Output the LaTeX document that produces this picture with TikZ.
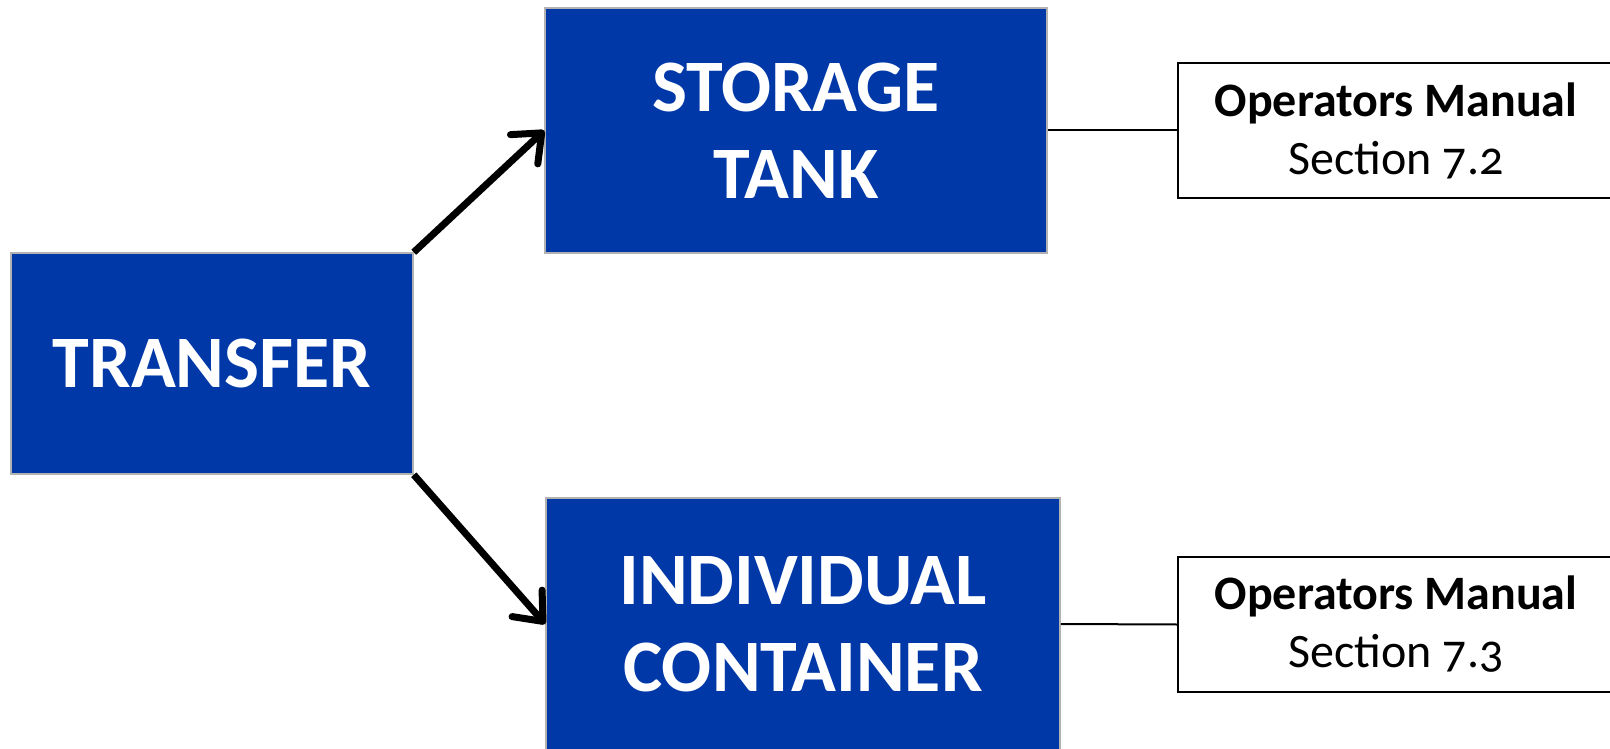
\documentclass[tikz,border=0pt]{standalone}
\usepackage{fontspec}
\setmainfont{Carlito}[Numbers=OldStyle]
\usetikzlibrary{arrows.meta}
\definecolor{tankblue}{RGB}{0,56,168}

\tikzset{
	block/.style={draw=gray!60, line width=1.5pt, fill=tankblue, text=white, align=center, inner sep=0pt,
		font=\fontsize{74}{87}\bfseries\selectfont},
	manual/.style={draw=black, line width=2pt, fill=white, align=center, inner sep=0pt,
		minimum width=436pt, minimum height=135pt, font=\fontsize{48}{58}\selectfont},
	flow/.style={line width=7pt, -{Straight Barb[length=24pt,width=40pt,line cap=round,line join=round]}},
	link/.style={line width=2pt},
}

\begin{document}
\begin{tikzpicture}[x=1pt,y=-1pt]
	\useasboundingbox (0,0) rectangle (1610,749);
	\clip (0,0) rectangle (1610,749);
	% process blocks
	\node[block, minimum width=402pt, minimum height=221pt] (transfer) at (212,363.5) {TRANSFER};
	\node[block, minimum width=502pt, minimum height=245pt] (tank) at (796,130.5) {STORAGE\\TANK};
	\node[block, minimum width=514pt, minimum height=252pt] (container) at (803,624) {INDIVIDUAL\\CONTAINER};
	% references
	\node[manual] (man72) at (1396,130.5) {\textbf{Operators Manual}\\Section 7.2};
	\node[manual] (man73) at (1396,624.5) {\textbf{Operators Manual}\\Section 7.3};
	\draw[flow] (transfer.north east) -- (tank.west);
	\draw[flow] (transfer.south east) -- (container.west);
	\draw[link] (tank.east) -- (man72.west);
	\draw[link] (container.east) -- (man73.west);
\end{tikzpicture}
\end{document}
